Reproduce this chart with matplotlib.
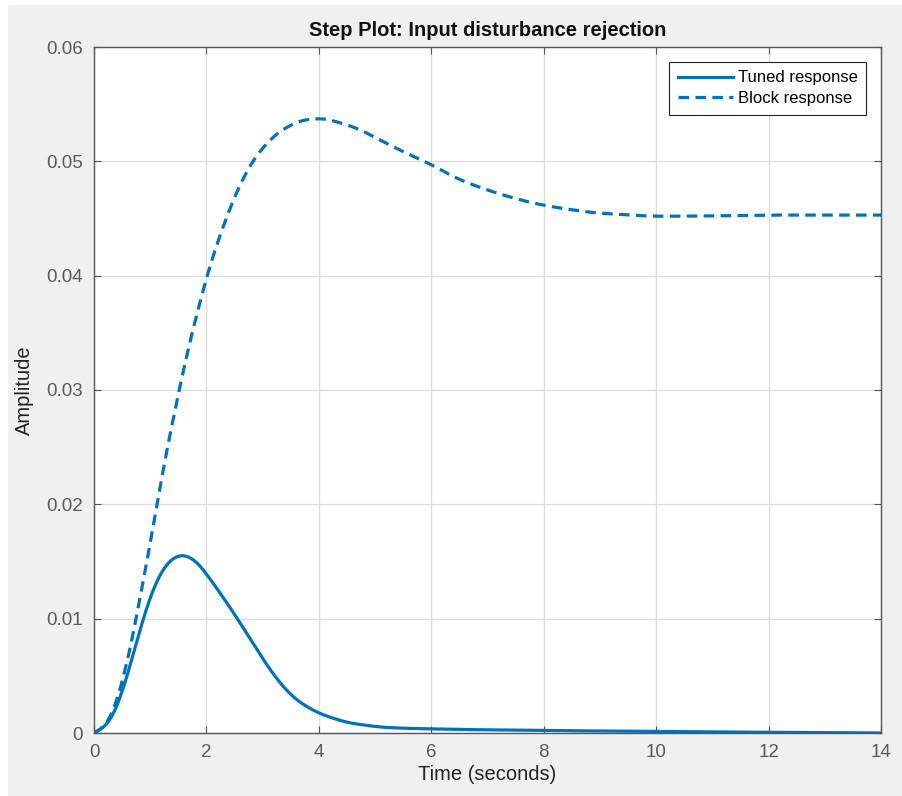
import matplotlib.pyplot as plt
from matplotlib.patches import Rectangle
import numpy as np

# values
t_tuned = [0, 0.17, 0.35, 0.52, 0.70, 0.88, 1.06, 1.29, 1.56, 1.83, 2.12, 2.42,
           2.72, 3.01, 3.31, 3.61, 4.0, 4.5, 5.1, 5.6, 6.6, 8.4, 10.8, 14.0]
y_tuned = [0, 0.0003, 0.0013, 0.0037, 0.0069, 0.0102, 0.0129, 0.0150, 0.0158,
           0.0151, 0.0131, 0.0110, 0.0087, 0.0064, 0.0043, 0.0028, 0.0017,
           0.0009, 0.0005, 0.0004, 0.0003, 0.0002, 0.0001, 0.0]

t_block = [0, 0.17, 0.35, 0.48, 0.64, 0.73, 0.85, 1.03, 1.14, 1.29, 1.48, 1.65,
           1.83, 2.0, 2.18, 2.42, 2.66, 2.89, 3.25, 3.66, 4.08, 4.5, 4.73, 5.15,
           5.56, 6.01, 6.45, 6.87, 7.31, 7.76, 8.17, 8.88, 9.89, 10.5, 12.0, 14.0]
y_block = [0, 0.0003, 0.0015, 0.0040, 0.0070, 0.0093, 0.0128, 0.0171, 0.0207,
           0.0248, 0.0291, 0.0333, 0.0366, 0.0400, 0.0427, 0.0460, 0.0487,
           0.0506, 0.0525, 0.0536, 0.0538, 0.0532, 0.0528, 0.0517, 0.0507,
           0.0497, 0.0485, 0.0477, 0.0470, 0.0464, 0.0460, 0.0455, 0.0452,
           0.0452, 0.0453, 0.0453]

x_ticks = [0, 2, 4, 6, 8, 10, 12, 14]
y_ticks = [0, 0.01, 0.02, 0.03, 0.04, 0.05, 0.06]
y_tick_labels = ['0', '0.01', '0.02', '0.03', '0.04', '0.05', '0.06']

plt.rcParams['font.family'] = ['Liberation Sans', 'DejaVu Sans']

blue = '#0072BD'


def smooth(t, y, sigma=0.13, dt=0.01):
    # resample the read points and take the corners off
    tt = np.arange(0, t[-1] + dt / 2, dt)
    yy = np.interp(tt, t, y)
    n = int(4 * sigma / dt)
    k = np.exp(-0.5 * (np.arange(-n, n + 1) * dt / sigma) ** 2)
    k /= k.sum()
    left = -yy[1:n + 1][::-1]          # odd mirror keeps y(0) = 0
    right = np.full(n, yy[-1])
    ys = np.convolve(np.concatenate([left, yy, right]), k, mode='valid')
    return tt, ys


fig = plt.figure(figsize=(9.03, 7.96), dpi=100, facecolor='#f0f0f0')
ax = fig.add_axes([94 / 903, 63 / 796, 787 / 903, 686 / 796])

tt, yt = smooth(t_tuned, y_tuned)
tb, yb = smooth(t_block, y_block)
ax.plot(tt, np.maximum(yt, 0), color=blue, lw=2.3, label='Tuned response')
ax.plot(tb, np.maximum(yb, 0), color=blue, lw=2.3, dashes=(3.3, 2.0),
        label='Block response')

ax.set_xlim(0, 14)
ax.set_ylim(0, 0.06)
ax.set_xticks(x_ticks)
ax.set_yticks(y_ticks)
ax.set_yticklabels(y_tick_labels)
ax.grid(True, color='#dcdcdc', lw=0.9)
ax.set_axisbelow(True)
ax.tick_params(direction='in', top=True, right=True, length=5, width=0.8,
               colors='#555555', labelsize=13.5, labelcolor='#5a5a5a', pad=8)
for s in ax.spines.values():
    s.set_color('#555555')
    s.set_linewidth(1.0)

ax.set_title('Step Plot: Input disturbance rejection', fontsize=14.5,
             fontweight='bold', color='#111111', pad=8)
ax.set_xlabel('Time (seconds)', fontsize=14.5, color='#222222', labelpad=3)
ax.set_ylabel('Amplitude', fontsize=14.5, color='#222222', labelpad=9)

leg = ax.legend(loc='upper right', fontsize=12, frameon=True, fancybox=False,
                edgecolor='#222222', framealpha=1, borderpad=0.5,
                handlelength=3.3, handletextpad=0.3, labelspacing=0.35,
                borderaxespad=0.9)
leg.get_frame().set_linewidth(0.8)

# white strips at top and left of the screenshot
fig.add_artist(Rectangle((0, 1 - 4 / 796), 1, 4 / 796, transform=fig.transFigure,
                         color='white', zorder=0))
fig.add_artist(Rectangle((0, 0), 7 / 903, 1, transform=fig.transFigure,
                         color='white', zorder=0))

fig.savefig('out.png', dpi=100, facecolor=fig.get_facecolor())
